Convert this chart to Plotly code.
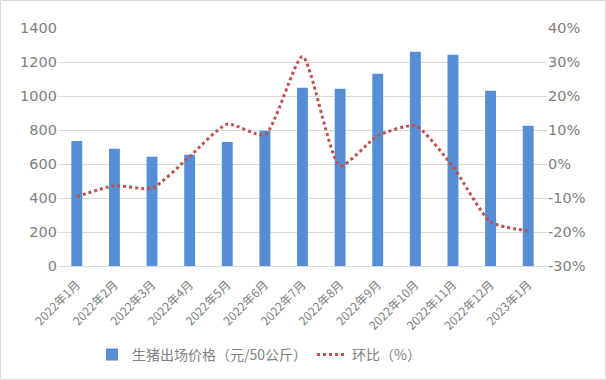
import plotly.graph_objects as go

categories = ["2022年1月", "2022年2月", "2022年3月", "2022年4月", "2022年5月", "2022年6月",
              "2022年7月", "2022年8月", "2022年9月", "2022年10月", "2022年11月", "2022年12月", "2023年1月"]
price = [735, 689, 642, 654, 730, 795, 1048, 1042, 1131, 1260, 1243, 1031, 825]
mom_pct = [-9.6, -6.4, -7.1, 2.2, 11.7, 8.6, 31.6, -0.5, 8.3, 11.2, -0.8, -17.0, -19.7]
left_ticks = [0, 200, 400, 600, 800, 1000, 1200, 1400]
right_ticks = [-30, -20, -10, 0, 10, 20, 30, 40]
right_labels = [f"{v}%" for v in right_ticks]

W, H = 606, 380
L, R, T, B = 58, 59, 28, 114
pw, ph = W - L - R, H - T - B

font = "DejaVu Sans, Noto Sans CJK SC, sans-serif"
cjk = "Noto Sans CJK SC, DejaVu Sans, sans-serif"
gray = "#808080"

fig = go.Figure()
fig.add_trace(go.Bar(x=categories, y=price, name="生猪出场价格（元/50公斤）",
                     marker=dict(color="#558ED5", line=dict(width=0)), yaxis="y"))
fig.add_trace(go.Scatter(x=categories, y=mom_pct, name="环比（%）", mode="lines",
                         line=dict(color="#C0504D", dash="dot", width=3, shape="spline", smoothing=0.6),
                         yaxis="y2"))

fig.update_layout(
    width=W, height=H,
    margin=dict(l=L, r=R, t=T, b=B, autoexpand=False),
    paper_bgcolor="white", plot_bgcolor="white",
    font=dict(family=font, color=gray),
    bargap=0.71,
    showlegend=True,
    legend=dict(orientation="h", x=(92 - L) / pw, xanchor="left", y=-89 / ph, yanchor="middle",
                font=dict(size=14, color=gray, family=cjk),
                itemwidth=30, tracegroupgap=0, bgcolor="rgba(0,0,0,0)"),
    xaxis=dict(tickangle=-45, tickfont=dict(size=12, color=gray, family=cjk), automargin=False,
               ticklabelstandoff=6,
               showgrid=False, showline=True, linecolor="#d9d9d9", ticks="", fixedrange=True),
    yaxis=dict(range=[0, 1400], tickvals=left_ticks, showgrid=True, gridcolor="#d9d9d9", automargin=False,
               tickfont=dict(size=14.5, color=gray), zeroline=False, ticks="", ticklen=0),
    yaxis2=dict(range=[-30, 40], tickvals=right_ticks, ticktext=right_labels, overlaying="y", side="right",
                showgrid=False, zeroline=False, tickfont=dict(size=14.5, color=gray), ticks="", automargin=False),
    shapes=[dict(type="rect", xref="paper", yref="paper",
                 x0=-(L - 0.5) / pw, x1=1 + (R - 0.5) / pw,
                 y0=-(B - 0.5) / ph, y1=1 + (T - 0.5) / ph,
                 line=dict(color="#d9d9d9", width=1), layer="below")],
)

fig.write_html("out.html", config={"displayModeBar": False},
               post_script="document.body.style.margin='0';")
